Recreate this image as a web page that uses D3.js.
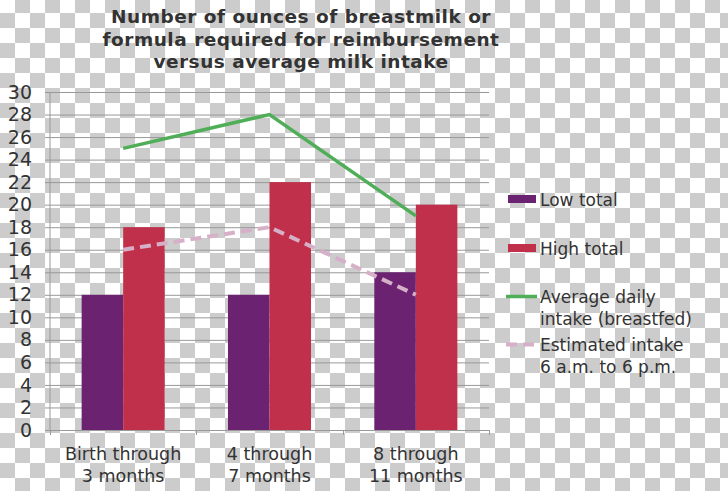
<!DOCTYPE html>
<html>
<head>
<meta charset="utf-8">
<script src="https://cdn.jsdelivr.net/npm/d3@7"></script>
<style>
  html, body { margin: 0; padding: 0; }
  svg { display: block; font-family: "DejaVu Sans", Verdana, sans-serif; }
</style>
</head>
<body>
<svg id="chart" width="728" height="491"></svg>
<script>
// ---- data ----
const categories = [["Birth through", "3 months"], ["4 through", "7 months"], ["8 through", "11 months"]];
const lowTotal = [12, 12, 14];
const highTotal = [18, 22, 20];
const avgDailyIntake = [25, 28, 19];
const estimatedIntake = [16, 18, 12];
const yTicks = [0, 2, 4, 6, 8, 10, 12, 14, 16, 18, 20, 22, 24, 26, 28, 30];
const titleLines = ["Number of ounces of breastmilk or", "formula required for reimbursement", "versus average milk intake"];
const legendItems = [
  { lines: ["Low total"], type: "bar", key: "low" },
  { lines: ["High total"], type: "bar", key: "high" },
  { lines: ["Average daily", "intake (breastfed)"], type: "line", key: "avg" },
  { lines: ["Estimated intake", "6 a.m. to 6 p.m."], type: "dash", key: "est" }
];

const colors = { low: "#6b2371", high: "#c1304a", avg: "#4fae57", est: "#d6b0c8" };
const textColor = "#333333";

const svg = d3.select("#chart");

// checkerboard background
const defs = svg.append("defs");
const pat = defs.append("pattern").attr("id", "checker")
  .attr("patternUnits", "userSpaceOnUse")
  .attr("x", 0).attr("y", -2).attr("width", 30).attr("height", 30);
pat.append("rect").attr("width", 30).attr("height", 30).attr("fill", "#ffffff");
pat.append("rect").attr("x", 15).attr("y", 0).attr("width", 15).attr("height", 15).attr("fill", "#cccccc");
pat.append("rect").attr("x", 0).attr("y", 15).attr("width", 15).attr("height", 15).attr("fill", "#cccccc");
svg.append("rect").attr("width", 728).attr("height", 491).attr("fill", "url(#checker)");

// scales
const catIdx = categories.map((d, i) => i);
const x0 = d3.scaleBand().domain(catIdx).range([50, 489]).paddingInner(0).paddingOuter(0);
const x1 = d3.scaleBand().domain(["low", "high"]).range([0, x0.bandwidth()]).paddingInner(0).paddingOuter(0.762);
const y = d3.scaleLinear().domain([0, 30]).range([430, 92]);

// gridlines + y axis
const yAxis = d3.axisLeft(y).tickValues(yTicks).tickSize(5).tickPadding(13);
const gy = svg.append("g").attr("transform", "translate(50,0)").call(yAxis);
gy.select(".domain").attr("stroke", "#999999").attr("d", "M0,92V430");
gy.selectAll(".tick line").attr("stroke", "#999999");
gy.selectAll(".tick text").attr("fill", textColor).style("font-size", "19px")
  .style("font-family", '"DejaVu Sans", Verdana, sans-serif');
gy.selectAll(".tick").filter(d => d !== 0).append("line")
  .attr("x1", 0).attr("x2", 439).attr("stroke", "#999999").attr("stroke-width", 1);

// x axis
const xAxis = d3.axisBottom(x0).tickSize(0).tickFormat("");
const gx = svg.append("g").attr("transform", "translate(0,430)").call(xAxis);
gx.select(".domain").remove();
gx.selectAll(".tick").remove();
svg.append("line").attr("x1", 45).attr("x2", 489).attr("y1", 430.5).attr("y2", 430.5).attr("stroke", "#999999");
const boundaries = catIdx.map(i => x0(i)).concat([x0(catIdx[catIdx.length - 1]) + x0.bandwidth()]);
svg.selectAll(".ctick").data(boundaries).enter().append("line")
  .attr("x1", d => Math.round(d) + 0.5).attr("x2", d => Math.round(d) + 0.5)
  .attr("y1", 430).attr("y2", 435).attr("stroke", "#999999");

// bars
const groups = svg.append("g").selectAll("g").data(catIdx).enter().append("g")
  .attr("transform", i => `translate(${x0(i)},0)`);
groups.append("rect").attr("x", x1("low")).attr("width", x1.bandwidth())
  .attr("y", i => y(lowTotal[i])).attr("height", i => y(0) - y(lowTotal[i])).attr("fill", colors.low);
groups.append("rect").attr("x", x1("high")).attr("width", x1.bandwidth())
  .attr("y", i => y(highTotal[i])).attr("height", i => y(0) - y(highTotal[i])).attr("fill", colors.high);

// lines
const cx = i => x0(i) + x0.bandwidth() / 2;
const line = vals => d3.line().x((d, i) => cx(i)).y(d => y(d))(vals);
svg.append("path").attr("d", line(estimatedIntake)).attr("fill", "none")
  .attr("stroke", colors.est).attr("stroke-width", 4).attr("stroke-dasharray", "11,6");
svg.append("path").attr("d", line(avgDailyIntake)).attr("fill", "none")
  .attr("stroke", colors.avg).attr("stroke-width", 3.5);

// x labels
const xl = svg.append("g").selectAll("text").data(catIdx).enter().append("text")
  .attr("x", i => cx(i)).attr("y", 460).attr("text-anchor", "middle")
  .attr("fill", textColor).style("font-size", "17.5px");
xl.each(function (i) {
  const t = d3.select(this);
  categories[i].forEach((ln, k) => {
    t.append("tspan").attr("x", cx(i)).attr("dy", k === 0 ? 0 : 22).text(ln);
  });
});

// title
const title = svg.append("text").attr("text-anchor", "middle").attr("fill", textColor)
  .style("font-size", "18.5px").style("font-weight", "bold").style("letter-spacing", "0.5px");
titleLines.forEach((ln, k) => {
  title.append("tspan").attr("x", 301).attr("y", 23 + k * 22.5).text(ln);
});

// legend
const legendY = [206, 255, 303, 351];
legendItems.forEach((it, k) => {
  const g = svg.append("g").attr("transform", `translate(0,${legendY[k]})`);
  if (it.type === "bar") {
    g.append("rect").attr("x", 508).attr("y", -11).attr("width", 28).attr("height", 8).attr("fill", colors[it.key]);
  } else {
    g.append("line").attr("x1", 506).attr("x2", 537).attr("y1", -6.5).attr("y2", -6.5)
      .attr("stroke", colors[it.key]).attr("stroke-width", it.type === "dash" ? 4 : 3.5)
      .attr("stroke-dasharray", it.type === "dash" ? "11,6" : null);
  }
  const t = g.append("text").attr("fill", textColor).style("font-size", "17px");
  it.lines.forEach((ln, j) => {
    t.append("tspan").attr("x", 540).attr("y", j * 22).text(ln);
  });
});
</script>
</body>
</html>
